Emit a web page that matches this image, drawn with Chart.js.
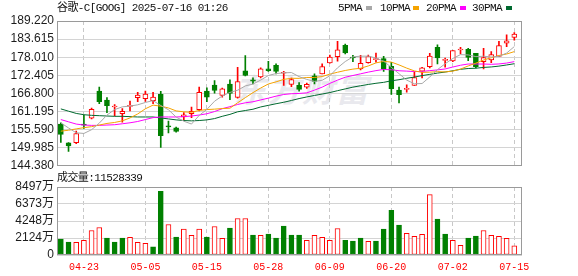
<!DOCTYPE html>
<html>
<head>
<meta charset="utf-8">
<script src="https://cdn.jsdelivr.net/npm/chart.js@4.4.1/dist/chart.umd.min.js"></script>
<style>
    html, body { margin: 0; padding: 0; background: #fff; }
    #wrap { position: relative; width: 578px; height: 276px; overflow: hidden; }
    canvas { position: absolute; left: 0; }
    #priceChart { top: 0; }
    #volumeChart { top: 165px; }
    .txt {
        position: absolute; white-space: nowrap; color: #111;
        font-family: "Liberation Mono", "Noto Sans CJK SC", monospace;
        font-size: 11px; line-height: 12px; letter-spacing: -0.6px;
    }
    .sw { position: absolute; width: 6px; height: 4px; }
    #wm {
        position: absolute; left: 234px; top: 70px; white-space: nowrap;
        font-family: "Noto Sans CJK SC", sans-serif; font-weight: bold; font-style: italic;
        font-size: 32px; line-height: 36px; letter-spacing: 2px; color: #e9e9ee;
    }
</style>
</head>
<body>
<div id="wrap">
    <div id="wm">东方财富</div>
    <canvas id="priceChart" width="578" height="176"></canvas>
    <canvas id="volumeChart" width="578" height="111"></canvas>
    <div class="txt" style="left:57px;top:2px;">谷歌-C[GOOG] 2025-07-16 01:26</div>
    <div class="txt" style="left:338px;top:2px;">5PMA</div>
    <div class="sw" style="left:366px;top:6px;background:#a8a8a8;"></div>
    <div class="txt" style="left:380px;top:2px;">10PMA</div>
    <div class="sw" style="left:413px;top:6px;background:#f5a300;"></div>
    <div class="txt" style="left:426px;top:2px;">20PMA</div>
    <div class="sw" style="left:460px;top:6px;background:#ff00ff;"></div>
    <div class="txt" style="left:472px;top:2px;">30PMA</div>
    <div class="sw" style="left:506px;top:6px;background:#00692f;"></div>
    <div class="txt" style="left:57px;top:172px;">成交量:11528339</div>
</div>
<script>
// daily GOOG candles, 2025-04-17 .. 2025-07-15
const dates = [
    "04-17", "04-21", "04-22", "04-23", "04-24", "04-25", "04-28", "04-29", "04-30", "05-01",
    "05-02", "05-05", "05-06", "05-07", "05-08", "05-09", "05-12", "05-13", "05-14", "05-15",
    "05-16", "05-19", "05-20", "05-21", "05-22", "05-23", "05-27", "05-28", "05-29", "05-30",
    "06-02", "06-03", "06-04", "06-05", "06-06", "06-09", "06-10", "06-11", "06-12", "06-13",
    "06-16", "06-17", "06-18", "06-20", "06-23", "06-24", "06-25", "06-26", "06-27", "06-30",
    "07-01", "07-02", "07-03", "07-07", "07-08", "07-09", "07-10", "07-11", "07-14", "07-15"
];
const shownDates = ["04-23", "05-05", "05-15", "05-28", "06-09", "06-20", "07-02", "07-15"];

const opens = [
    157.27, 151.52, 151.52, 157.27, 159.11, 167.52, 164.75, 162.60, 160.55, 162.80,
    165.47, 165.16, 164.54, 166.49, 156.65, 156.14, 159.52, 160.55, 161.78, 167.52,
    169.36, 166.19, 169.67, 165.57, 173.77, 171.00, 171.93, 174.39, 175.52, 173.05,
    169.57, 169.36, 168.75, 172.23, 172.85, 176.23, 178.18, 181.67, 177.98, 174.39,
    176.34, 177.26, 177.57, 175.21, 167.83, 168.03, 169.26, 173.67, 175.11, 181.05,
    177.05, 176.85, 180.23, 180.44, 179.21, 176.64, 177.16, 178.28, 182.39, 184.13
];
const highs = [
    157.68, 151.60, 155.11, 160.03, 162.29, 168.75, 165.47, 163.31, 162.08, 164.44,
    167.11, 167.52, 167.11, 167.42, 158.19, 156.34, 160.85, 162.60, 168.75, 168.54,
    170.80, 168.44, 171.00, 174.90, 178.49, 171.62, 174.70, 176.75, 175.93, 173.67,
    171.52, 170.18, 169.98, 172.85, 175.93, 178.70, 182.90, 182.08, 178.59, 178.59,
    178.70, 179.31, 178.28, 176.44, 168.75, 169.47, 173.57, 174.90, 179.21, 181.87,
    177.77, 180.03, 181.05, 180.74, 179.21, 180.74, 179.72, 182.90, 184.95, 185.67
];
const lows = [
    151.63, 148.86, 151.22, 155.93, 158.91, 163.62, 160.85, 159.83, 157.88, 161.37,
    164.24, 164.34, 163.62, 150.09, 154.60, 154.80, 158.50, 159.32, 161.37, 164.24,
    166.90, 165.67, 164.85, 165.36, 172.23, 169.77, 171.62, 173.57, 172.85, 169.26,
    168.85, 167.52, 168.34, 169.77, 172.85, 176.13, 176.75, 179.00, 176.64, 174.08,
    176.13, 176.44, 173.57, 166.49, 163.83, 167.21, 169.26, 171.62, 174.70, 175.93,
    174.90, 176.64, 179.00, 176.95, 174.70, 174.39, 176.34, 178.18, 181.26, 183.31
];
const closes = [
    154.09, 150.50, 154.39, 156.96, 161.88, 164.24, 163.01, 162.80, 161.26, 163.01,
    166.29, 166.60, 165.67, 153.68, 156.45, 155.01, 160.14, 161.26, 167.11, 165.67,
    167.72, 168.24, 166.80, 170.49, 172.34, 170.60, 174.39, 173.87, 173.57, 173.36,
    171.11, 168.03, 169.57, 170.49, 175.11, 178.08, 180.33, 179.31, 177.77, 176.13,
    178.18, 177.46, 174.29, 168.24, 166.39, 168.24, 171.72, 174.70, 178.39, 177.77,
    177.26, 180.03, 180.54, 177.98, 175.11, 177.87, 178.80, 181.57, 183.10, 185.15
];
// volume in 万 shares
const volumes = [
    1990, 1617, 1575, 1824, 3067, 3440, 2114, 1617, 2114, 2197,
    1575, 1451, 1036, 7958, 3813, 2238, 3233, 2446, 3233, 2238,
    3565, 2073, 3357, 4560, 4560, 2487, 2446, 2611, 2114, 3606,
    2487, 2487, 1824, 2446, 2197, 1824, 3316, 1824, 1741, 2114,
    1700, 1741, 3233, 5596, 3731, 2694, 2321, 2570, 7544, 4477,
    2611, 1824, 1202, 2114, 2363, 3067, 2446, 2321, 2073, 1153
];

const ma5 = [
    157.7, 156.1, 154.6, 154.4, 155.56, 157.59, 160.10, 161.78, 162.64, 162.86,
    163.27, 163.99, 164.57, 163.05, 161.74, 159.48, 158.19, 157.31, 159.99, 161.84,
    164.38, 166.00, 167.11, 167.78, 169.12, 169.69, 170.92, 172.34, 172.95, 173.16,
    173.26, 171.99, 171.13, 170.51, 170.86, 172.26, 174.72, 176.66, 178.12, 178.32,
    178.34, 177.77, 176.77, 174.86, 172.91, 170.92, 169.78, 169.86, 171.89, 174.16,
    175.97, 177.63, 178.80, 178.72, 178.18, 178.31, 178.06, 178.27, 179.29, 181.30
];
const ma10 = [
    155.1, 155.4, 155.8, 156.2, 156.5, 157.0, 157.5, 157.8, 158.3, 159.21,
    160.43, 162.04, 163.17, 162.84, 162.30, 161.38, 161.09, 160.94, 161.52, 161.79,
    161.93, 162.10, 162.21, 163.89, 165.48, 167.04, 168.46, 169.72, 170.37, 171.14,
    171.48, 171.46, 171.73, 171.73, 172.01, 172.76, 173.35, 173.90, 174.32, 174.59,
    175.30, 176.24, 176.72, 176.49, 175.62, 174.63, 173.77, 173.31, 173.37, 173.54,
    173.45, 173.70, 174.33, 175.30, 176.17, 177.14, 177.85, 178.53, 179.00, 179.74
];
const ma20 = [
    158.7, 158.0, 157.3, 157.0, 156.9, 156.9, 157.0, 157.1, 157.4, 157.7,
    158.1, 158.7, 159.3, 159.5, 159.5, 159.5, 159.6, 159.8, 160.1, 160.50,
    161.18, 162.07, 162.69, 163.37, 163.89, 164.21, 164.78, 165.33, 165.95, 166.46,
    166.70, 166.78, 166.97, 167.81, 168.74, 169.90, 170.91, 171.81, 172.34, 172.87,
    173.39, 173.85, 174.22, 174.11, 173.81, 173.70, 173.56, 173.60, 173.85, 174.07,
    174.37, 174.97, 175.52, 175.90, 175.90, 175.89, 175.81, 175.92, 176.19, 176.64
];
const ma30 = [
    162.0, 161.3, 160.6, 160.2, 160.0, 159.9, 159.8, 159.7, 159.7, 159.6,
    159.5, 159.5, 159.5, 159.2, 158.9, 158.6, 158.4, 158.3, 158.4, 158.6,
    159.0, 159.7, 160.3, 161.1, 161.5, 161.9, 162.6, 163.1, 163.6, 164.05,
    164.61, 165.20, 165.70, 166.16, 166.60, 167.06, 167.64, 168.19, 168.74, 169.17,
    169.57, 169.93, 170.22, 170.70, 171.04, 171.48, 171.86, 172.31, 172.69, 173.09,
    173.41, 173.80, 174.26, 174.51, 174.60, 174.84, 174.99, 175.25, 175.60, 175.99
];

const priceTicks = [144.380, 149.985, 155.590, 161.195, 166.800, 172.405, 178.010, 183.615, 189.220];
const volumeTicks = [0, 2124, 4248, 6373, 8497];

const RED = "#ff0000";
const GREEN = "#008000";
const labelFont = { family: "'Liberation Sans', 'Noto Sans CJK SC', sans-serif", size: 12 };
const tickIdx = shownDates.map((d) => dates.indexOf(d));

const frame = {
    id: "frame",
    afterDraw(chart) {
        const a = chart.chartArea;
        const ctx = chart.ctx;
        ctx.save();
        ctx.strokeStyle = "#9a9a9a";
        ctx.lineWidth = 1;
        ctx.strokeRect(Math.round(a.left) + 0.5, Math.round(a.top) + 0.5,
            Math.round(a.right - a.left) - 1, Math.round(a.bottom - a.top) - 1);
        ctx.restore();
    },
};

function xScale(showLabels) {
    return {
        type: "linear",
        min: -0.5,
        max: 60,
        offset: false,
        afterBuildTicks: (scale) => {
            scale.ticks = tickIdx.map((v) => ({ value: v }));
        },
        afterFit: (scale) => {
            scale.height = showLabels ? 20 : 0;
        },
        grid: { color: "#c8c8c8", drawTicks: false, offset: false, borderDash: [4, 3] },
        border: { display: false, dash: [4, 3] },
        ticks: {
            display: showLabels,
            padding: 6,
            color: RED,
            maxRotation: 0,
            autoSkip: false,
            font: { family: "'Liberation Mono', monospace", size: 10 },
            callback: (v) => dates[v] || "",
        },
    };
}

const candleUp = closes.map((c, i) => c >= opens[i]);

function lineSet(data, color) {
    return {
        type: "line",
        data: data.map((v, i) => ({ x: i, y: v })),
        borderColor: color,
        borderWidth: 1,
        pointRadius: 0,
        tension: 0,
        order: 0,
    };
}

new Chart(document.getElementById("priceChart"), {
    type: "bar",
    data: {
        datasets: [
            {
                data: opens.map((o, i) => ({ x: i, y: [o, closes[i]] })),
                backgroundColor: candleUp.map((u) => (u ? "#ffffff" : GREEN)),
                borderColor: candleUp.map((u) => (u ? RED : GREEN)),
                borderWidth: 1,
                borderSkipped: false,
                barThickness: 5,
                minBarLength: 1,
                grouped: false,
                order: 1,
            },
            {
                data: lows.map((l, i) => ({ x: i, y: [l, highs[i]] })),
                backgroundColor: candleUp.map((u) => (u ? RED : GREEN)),
                borderWidth: 0,
                barThickness: 1,
                grouped: false,
                order: 2,
            },
            lineSet(ma5, "#a8a8a8"),
            lineSet(ma10, "#f5a300"),
            lineSet(ma20, "#ff00ff"),
            lineSet(ma30, "#00692f"),
        ],
    },
    options: {
        responsive: false,
        animation: false,
        events: [],
        layout: { padding: { top: 21, right: 56, bottom: 10, left: 0 } },
        plugins: { legend: { display: false }, tooltip: { enabled: false } },
        scales: {
            x: xScale(false),
            y: {
                min: 144.38,
                max: 189.22,
                afterBuildTicks: (scale) => {
                    scale.ticks = priceTicks.map((v) => ({ value: v }));
                },
                afterFit: (scale) => {
                    scale.width = 57;
                },
                grid: { color: "#d4d4d4", drawTicks: false },
                border: { display: false },
                ticks: {
                    padding: 3,
                    autoSkip: false,
                    color: "#1c1c1c",
                    font: labelFont,
                    callback: (v) => v.toFixed(3),
                },
            },
        },
    },
    plugins: [frame],
});

const volumeUp = closes.map((c, i) => (i === 0 ? candleUp[0] : c >= closes[i - 1]));

new Chart(document.getElementById("volumeChart"), {
    type: "bar",
    data: {
        datasets: [
            {
                data: volumes.map((v, i) => ({ x: i, y: v })),
                backgroundColor: volumeUp.map((u) => (u ? "#ffffff" : GREEN)),
                borderColor: volumeUp.map((u) => (u ? RED : GREEN)),
                borderWidth: 1,
                borderSkipped: false,
                barThickness: 5,
                grouped: false,
            },
        ],
    },
    options: {
        responsive: false,
        animation: false,
        events: [],
        layout: { padding: { top: 22, right: 56, bottom: 1, left: 0 } },
        plugins: { legend: { display: false }, tooltip: { enabled: false } },
        scales: {
            x: xScale(true),
            y: {
                min: 0,
                max: 8497,
                afterBuildTicks: (scale) => {
                    scale.ticks = volumeTicks.map((v) => ({ value: v }));
                },
                afterFit: (scale) => {
                    scale.width = 57;
                },
                grid: { color: "#d4d4d4", drawTicks: false },
                border: { display: false },
                ticks: {
                    padding: 3,
                    autoSkip: false,
                    color: "#1c1c1c",
                    font: labelFont,
                    callback: (v) => (v === 0 ? "0" : v + "万"),
                },
            },
        },
    },
    plugins: [frame],
});
</script>
</body>
</html>
